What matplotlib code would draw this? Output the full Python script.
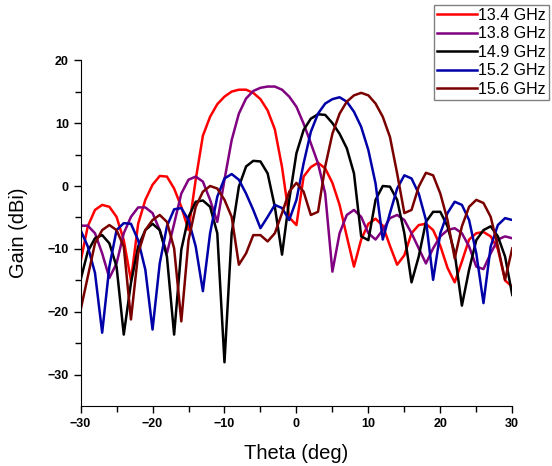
import matplotlib
matplotlib.use("Agg")
import matplotlib.pyplot as plt
import numpy as np

plt.rcParams['font.family'] = ['Liberation Sans', 'DejaVu Sans']

theta = np.arange(-30, 31)

gain_134 = [-12, -6.4, -3.8, -3.0, -3.3, -4.9, -8.6, -15, -6, -2.2,
            0.2, 1.6, 1.5, -0.4, -3.3, -7, 1, 8, 11, 13,
            14.2, 15, 15.3, 15.3, 14.8, 13.8, 12, 9, 3, -5,
            -6.2, 1.5, 3, 3.7, 2.8, 0.5, -3, -8, -12.8, -8.5,
            -6, -5.2, -6.3, -9.5, -12.5, -11, -7.5, -6.2, -6, -7,
            -9.5, -13, -15.3, -12, -8.5, -7.5, -7.3, -8, -10, -15,
            -16]
gain_138 = [-6.3, -6.3, -7.5, -10.7, -14.6, -12.3, -7.5, -4.9, -3.4, -3.4,
            -4.3, -7, -10.7, -6, -1.2, 1, 1.5, 0.7, -2.2, -5.7,
            1, 7.3, 11.5, 13.9, 15.1, 15.6, 15.8, 15.8, 15.3, 14.2,
            12.6, 9.9, 6.8, 3.6, -1.2, -13.6, -7.5, -4.6, -3.8, -4.9,
            -7.5, -8.5, -7, -5.1, -4.6, -5.4, -7.5, -9.9, -12.3, -9.9,
            -8, -7, -6.7, -7.5, -9.6, -12.8, -13.2, -10.7, -8.5, -8,
            -8.3]
gain_149 = [-14.9, -10.4, -8.3, -7.8, -9.1, -12.8, -23.6, -15.4, -9.6, -7,
            -6, -7, -11.2, -23.6, -10.1, -4.9, -2.5, -2.3, -3.3, -7.5,
            -28, -7.5, -0.1, 3.1, 4, 3.9, 2, -3.3, -10.9, -2.2,
            5.2, 8.9, 10.7, 11.4, 11.3, 10, 8.3, 6, 2, -8,
            -8.6, -2.2, 0, -0.1, -2.2, -7.5, -15.3, -11.2, -5.7, -4.1,
            -4.1, -6.4, -10.7, -19, -13.3, -8.6, -7, -6.4, -8, -11.2,
            -17.3]
gain_152 = [-7, -9.6, -13.8, -23.3, -12.8, -7, -5.9, -6, -8.6, -13.3,
            -22.8, -12.3, -6.4, -3.7, -3.5, -5.4, -9.6, -16.7, -7.5, -1.7,
            1.2, 1.9, 1, -1.2, -3.8, -6.7, -4.9, -3, -3.5, -5.4,
            -2.2, 3.6, 8.6, 11.5, 13.1, 13.8, 14.1, 13.4, 11.8, 9.4,
            5.7, 0.4, -8.5, -4.3, -0.4, 1.7, 1.2, -1.2, -5.4, -14.9,
            -7.5, -4.3, -2.5, -3, -5.4, -10.7, -18.6, -9.6, -6.2, -5.1,
            -5.4]
gain_156 = [-19.7, -14.4, -9.1, -7, -6.2, -7, -9.6, -21.2, -10.7, -7,
            -5.4, -4.6, -5.7, -9.9, -21.5, -8.6, -3.3, -0.9, 0, -0.4,
            -2.2, -4.9, -12.5, -10.7, -7.8, -7.8, -8.8, -7.5, -4.3, -0.9,
            0.5, -0.9, -4.6, -4.1, 3.1, 8.3, 11.5, 13.4, 14.4, 14.8,
            14.4, 13.1, 11, 7.8, 2, -4.3, -3.8, -0.1, 2.1, 1.7,
            -1.2, -5.4, -11.5, -6.4, -3.3, -2.2, -2.7, -4.9, -9.6, -14.9,
            -9.9]

labels = ['13.4 GHz', '13.8 GHz', '14.9 GHz', '15.2 GHz', '15.6 GHz']
colors = ['#ff0000', '#800080', '#000000', '#0000a8', '#7a0000']
series = [gain_134, gain_138, gain_149, gain_152, gain_156]

fig = plt.figure(figsize=(5.52, 4.66), dpi=100)
ax = fig.add_axes([0.146, 0.128, 0.782, 0.743])

for g, c, lab in zip(series, colors, labels):
    ax.plot(theta, g, color=c, lw=1.8, label=lab)

ax.set_xlim(-30, 30)
ax.set_ylim(-35, 20)
ax.set_xticks([-30, -20, -10, 0, 10, 20, 30])
ax.set_xticks(np.arange(-25, 30, 10), minor=True)
ax.set_yticks([-30, -20, -10, 0, 10, 20])
ax.set_yticks([-25, -15, -5, 5, 15], minor=True)
ax.spines['top'].set_visible(False)
ax.spines['right'].set_visible(False)
ax.tick_params(which='major', length=5, width=1, labelsize=9)
ax.tick_params(which='minor', length=4, width=1)
for t in ax.get_xticklabels() + ax.get_yticklabels():
    t.set_fontweight('bold')

ax.set_xlabel('Theta (deg)', fontsize=14.5, labelpad=10)
ax.set_ylabel('Gain (dBi)', fontsize=14.5, labelpad=14)

fig.legend(loc='upper right', bbox_to_anchor=(0.995, 0.99), fontsize=11.5,
           frameon=True, fancybox=False, edgecolor='#808080', framealpha=1,
           handlelength=2.5, handletextpad=0.1, labelspacing=0.22,
           borderpad=0.2, borderaxespad=0)

fig.savefig('out.png', dpi=100)
